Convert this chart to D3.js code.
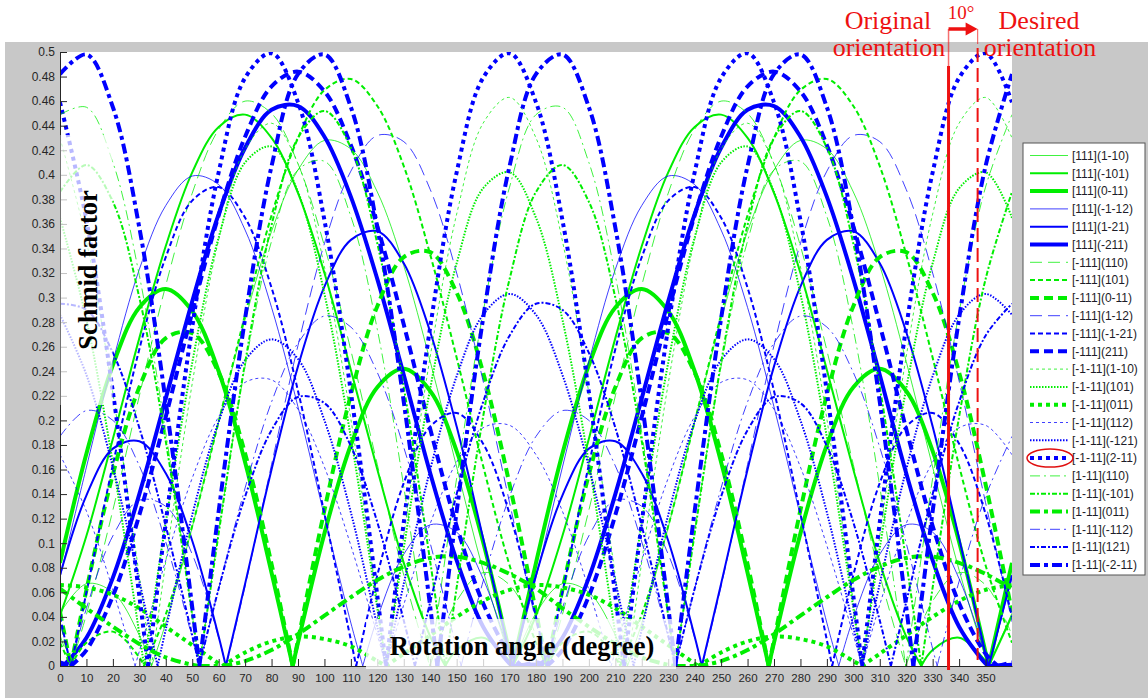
<!DOCTYPE html>
<html>
<head>
<meta charset="utf-8">
<script src="https://cdn.jsdelivr.net/npm/d3@7"></script>
<style>
  body { margin: 0; background: #fff; }
  svg { display: block; }
</style>
</head>
<body>
<div id="chart"></div>
<script>
// rotation angles (degree) at which the Schmid factors were read
const angles = [0,10,20,30,40,50,60,70,80,90,100,110,120,130,140,150,160,170,
  180,190,200,210,220,230,240,250,260,270,280,290,300,310,320,330,340,350,360];

const xTicks = [0,10,20,30,40,50,60,70,80,90,100,110,120,130,140,150,160,170,
  180,190,200,210,220,230,240,250,260,270,280,290,300,310,320,330,340,350];
const yTicks = [0,0.02,0.04,0.06,0.08,0.1,0.12,0.14,0.16,0.18,0.2,0.22,0.24,0.26,
  0.28,0.3,0.32,0.34,0.36,0.38,0.4,0.42,0.44,0.46,0.48,0.5];

const systems = ['[111](1-10)','[111](-101)','[111](0-11)','[111](-1-12)','[111](1-21)','[111](-211)',
  '[-111](110)','[-111](101)','[-111](0-11)','[-111](1-12)','[-111](-1-21)','[-111](211)',
  '[-1-11](1-10)','[-1-11](101)','[-1-11](011)','[-1-11](112)','[-1-11](-121)','[-1-11](2-11)',
  '[1-11](110)','[1-11](-101)','[1-11](011)','[1-11](-112)','[1-11](121)','[1-11](-2-11)'];

// Schmid factor per slip system, one row per system, read at `angles`
const plane111 = [
  [.043,.067,.060,.025,.035,.113,.199,.282,.354,.404,.428,.421,.386,.326,.248,.162,.078,.007,.043,.067,.060,.025,.035,.113,.199,.282,.354,.404,.428,.421,.386,.326,.248,.162,.078,.007,.043],
  [.041,.106,.185,.267,.342,.402,.439,.449,.430,.385,.320,.241,.160,.084,.024,.013,.023,.004,.041,.106,.185,.267,.342,.402,.439,.449,.430,.385,.320,.241,.160,.084,.024,.013,.023,.004,.041],
  [.084,.173,.245,.292,.307,.289,.240,.166,.076,.019,.108,.180,.227,.242,.224,.175,.101,.011,.084,.173,.245,.292,.307,.289,.240,.166,.076,.019,.108,.180,.227,.242,.224,.175,.101,.011,.084],
  [.072,.162,.248,.323,.375,.399,.392,.355,.292,.211,.122,.035,.039,.091,.115,.109,.071,.009,.072,.162,.248,.323,.375,.399,.392,.355,.292,.211,.122,.035,.039,.091,.115,.109,.071,.009,.072],
  [.074,.139,.177,.183,.157,.102,.024,.067,.160,.244,.309,.347,.354,.328,.272,.195,.104,.010,.074,.139,.177,.183,.157,.102,.024,.067,.160,.244,.309,.347,.354,.328,.272,.195,.104,.010,.074],
  [.001,.023,.072,.140,.218,.297,.368,.422,.453,.456,.431,.382,.315,.237,.157,.086,.032,.002,.001,.023,.072,.140,.218,.297,.368,.422,.453,.456,.431,.382,.315,.237,.157,.086,.032,.002,.001]
];
const planeM111 = [
  [.025,.042,.127,.220,.310,.385,.437,.460,.450,.409,.342,.257,.164,.074,.001,.053,.076,.066,.025,.042,.127,.220,.310,.385,.437,.460,.450,.409,.342,.257,.164,.074,.001,.053,.076,.066,.025],
  [.019,.019,.028,.007,.042,.114,.199,.286,.367,.430,.469,.478,.456,.407,.335,.251,.163,.082,.019,.019,.028,.007,.042,.114,.199,.286,.367,.430,.469,.478,.456,.407,.335,.251,.163,.082,.019],
  [.044,.062,.156,.227,.267,.271,.239,.173,.083,.021,.127,.221,.293,.333,.337,.304,.239,.148,.044,.062,.156,.227,.267,.271,.239,.173,.083,.021,.127,.221,.293,.333,.337,.304,.239,.148,.044],
  [.036,.047,.106,.135,.130,.091,.023,.065,.164,.261,.344,.403,.432,.427,.388,.320,.232,.133,.036,.047,.106,.135,.130,.091,.023,.065,.164,.261,.344,.403,.432,.427,.388,.320,.232,.133,.036],
  [.040,.060,.164,.258,.333,.379,.390,.365,.308,.224,.124,.021,.074,.149,.195,.206,.181,.124,.040,.060,.164,.258,.333,.379,.390,.365,.308,.224,.124,.021,.074,.149,.195,.206,.181,.124,.040],
  [.003,.013,.057,.123,.203,.288,.367,.431,.472,.484,.468,.424,.358,.278,.193,.114,.051,.010,.003,.013,.057,.123,.203,.288,.367,.431,.472,.484,.468,.424,.358,.278,.193,.114,.051,.010,.003]
];
const planeMM11 = [
  [.430,.346,.222,.073,.085,.230,.347,.421,.442,.409,.325,.201,.052,.106,.252,.368,.442,.463,.430,.346,.222,.073,.085,.230,.347,.421,.442,.409,.325,.201,.052,.106,.252,.368,.442,.463,.430],
  [.365,.282,.165,.026,.117,.247,.349,.410,.423,.386,.303,.186,.047,.096,.226,.328,.389,.402,.365,.282,.165,.026,.117,.247,.349,.410,.423,.386,.303,.186,.047,.096,.226,.328,.389,.402,.365],
  [.066,.064,.058,.047,.032,.017,.002,.011,.020,.024,.022,.016,.004,.010,.025,.040,.053,.062,.066,.064,.058,.047,.032,.017,.002,.011,.020,.024,.022,.016,.004,.010,.025,.040,.053,.062,.066],
  [.172,.126,.062,.012,.086,.153,.203,.231,.233,.209,.162,.098,.025,.050,.116,.166,.194,.196,.172,.126,.062,.012,.086,.153,.203,.231,.233,.209,.162,.098,.025,.050,.116,.166,.194,.196,.172],
  [.286,.237,.162,.069,.030,.123,.199,.249,.266,.250,.200,.125,.032,.067,.160,.236,.286,.303,.286,.237,.162,.069,.030,.123,.199,.249,.266,.250,.200,.125,.032,.067,.160,.236,.286,.303,.286],
  [.459,.363,.223,.057,.117,.276,.402,.479,.499,.459,.363,.223,.057,.117,.276,.402,.479,.499,.459,.363,.223,.057,.117,.276,.402,.479,.499,.459,.363,.223,.057,.117,.276,.402,.479,.499,.459]
];
const plane1M11 = [
  [.449,.455,.410,.318,.190,.042,.109,.244,.346,.404,.411,.366,.274,.146,.002,.153,.288,.390,.449,.455,.410,.318,.190,.042,.109,.244,.346,.404,.411,.366,.274,.146,.002,.153,.288,.390,.449],
  [.386,.408,.378,.300,.183,.041,.108,.247,.359,.430,.452,.422,.344,.227,.085,.064,.203,.315,.386,.408,.378,.300,.183,.041,.108,.247,.359,.430,.452,.422,.344,.227,.085,.064,.203,.315,.386],
  [.063,.047,.032,.018,.007,.001,.000,.004,.013,.026,.041,.056,.070,.081,.088,.089,.084,.075,.063,.047,.032,.018,.007,.001,.000,.004,.013,.026,.041,.056,.070,.081,.088,.089,.084,.075,.063],
  [.187,.208,.200,.163,.101,.023,.063,.145,.215,.263,.285,.276,.239,.178,.100,.014,.069,.138,.187,.208,.200,.163,.101,.023,.063,.145,.215,.263,.285,.276,.239,.178,.100,.014,.069,.138,.187],
  [.295,.290,.255,.194,.114,.025,.063,.138,.192,.219,.214,.179,.117,.037,.052,.140,.215,.269,.295,.290,.255,.194,.114,.025,.063,.138,.192,.219,.214,.179,.117,.037,.052,.140,.215,.269,.295],
  [.482,.498,.455,.357,.215,.048,.126,.283,.407,.482,.498,.455,.357,.215,.048,.126,.283,.407,.482,.498,.455,.357,.215,.048,.126,.283,.407,.482,.498,.455,.357,.215,.048,.126,.283,.407,.482]
];

// angles (degree) where each curve drops to zero (sharp V points)
const zeros111 = [[34.6,171.2,214.6,351.2],[145.7,171.2,325.7,351.2],[88,171.2,268,351.2],
  [114.5,171.2,294.5,351.2],[62.7,171.2,242.7,351.2],[1.2,171.2,181.2,351.2]];
const zerosM111 = [[4.1,139.8,184.1,319.8],[4.1,31.8,184.1,211.8],[4.1,88,184.1,268],
  [4.1,62.8,184.1,242.8],[4.1,112,184.1,292],[4.1,174.7,184.1,354.7]];
const zerosMM11 = [[34.6,123.3,214.6,303.3],[31.8,123.3,211.8,303.3],[61.4,123.3,241.4,303.3],
  [28.4,123.3,208.4,303.3],[36.9,123.3,216.9,303.3],[33.3,123.3,213.3,303.3]];
const zeros1M11 = [[52.7,139.8,232.7,319.8],[52.7,145.7,232.7,325.7],[52.8,61.4,232.8,241.4],
  [52.7,151.7,232.7,331.7],[52.7,134.2,232.7,314.2],[52.7,142.7,232.7,322.7]];

// orientation markers (degree)
const originalAngle = 336;
const desiredAngle = 347;

class SchmidPlot {

  constructor(_config) {
    this.config = {
      parentElement: _config.parentElement,
      containerWidth: 1148, containerHeight: 698,
      margin: { top: 52, right: 136, bottom: 32, left: 60 }
    };
    this.values = [].concat(plane111, planeM111, planeMM11, plane1M11);
    this.zeros = [].concat(zeros111, zerosM111, zerosMM11, zeros1M11);
    this.initVis();
  }

  initVis() {
    let vis = this;
    vis.width = vis.config.containerWidth - vis.config.margin.left - vis.config.margin.right;
    vis.height = vis.config.containerHeight - vis.config.margin.top - vis.config.margin.bottom;

    vis.xScale = d3.scaleLinear().domain([0, 360]).range([0, vis.width]);
    vis.yScale = d3.scaleLinear().domain([0, 0.5]).range([vis.height, 0]);

    // matlab style ticks pointing inwards
    vis.xAxis = d3.axisBottom(vis.xScale)
      .tickValues(xTicks)
      .tickSizeInner(-7)
      .tickSizeOuter(0)
      .tickPadding(7.5);
    vis.yAxis = d3.axisLeft(vis.yScale)
      .tickValues(yTicks)
      .tickSizeInner(-7)
      .tickSizeOuter(0)
      .tickPadding(5)
      .tickFormat(d => String(+d.toFixed(2)));

    vis.svg = d3.select(vis.config.parentElement).append('svg')
      .attr('width', vis.config.containerWidth)
      .attr('height', vis.config.containerHeight);

    // grey figure background
    vis.svg.append('rect')
      .attr('x', 5).attr('y', 42)
      .attr('width', vis.config.containerWidth - 5)
      .attr('height', vis.config.containerHeight - 42)
      .attr('fill', '#c8c8c8');

    vis.chart = vis.svg.append('g')
      .attr('transform', `translate(${vis.config.margin.left},${vis.config.margin.top})`);

    vis.chart.append('rect')
      .attr('width', vis.width)
      .attr('height', vis.height)
      .attr('fill', '#fff');

    vis.svg.append('clipPath').attr('id', 'plot-clip')
      .append('rect').attr('width', vis.width).attr('height', vis.height);

    vis.curveG = vis.chart.append('g').attr('clip-path', 'url(#plot-clip)');
    vis.xAxisG = vis.chart.append('g').attr('class', 'axis x-axis')
      .attr('transform', `translate(0,${vis.height})`);
    vis.yAxisG = vis.chart.append('g').attr('class', 'axis y-axis');
  }

  // colour / width / dash are picked from the position in the legend
  styleOf(i) {
    const plane = Math.floor(i / 6);
    const weight = i % 3;
    const dashes = [
      [null, null, null],
      ['12,6', '5,3', '9,5'],
      ['3,3', '1.5,1.5', '4,4'],
      ['10,4,2,4', '5,2,2,2', '10,4,4,4']
    ];
    return {
      color: (i % 6) < 3 ? '#00ee00' : '#0000ff',
      width: [1, 2, 4][weight],
      opacity: weight === 0 ? 0.75 : 1,
      dash: dashes[plane][weight]
    };
  }

  // split at zero points so the V bottoms stay sharp
  segments(vals, zs) {
    const pts = angles.map((a, i) => ({ a: a, v: vals[i], z: false }))
      .concat(zs.map(a => ({ a: a, v: 0, z: true })))
      .sort((p, q) => p.a - q.a);
    const segs = [];
    let cur = [];
    pts.forEach(p => {
      cur.push(p);
      if (p.z) {
        segs.push(cur);
        cur = [p];
      }
    });
    if (cur.length > 1) segs.push(cur);
    return segs;
  }

  renderVis() {
    let vis = this;

    const line = d3.line()
      .x(d => vis.xScale(d.a))
      .y(d => vis.yScale(d.v))
      .curve(d3.curveCatmullRom.alpha(0.5));

    vis.values.forEach((vals, i) => {
      const st = vis.styleOf(i);
      vis.curveG.append('g')
        .selectAll('path')
        .data(vis.segments(vals, vis.zeros[i]))
        .join('path')
        .attr('d', line)
        .attr('fill', 'none')
        .attr('stroke', st.color)
        .attr('stroke-width', st.width)
        .attr('stroke-opacity', st.opacity)
        .attr('stroke-dasharray', st.dash);
    });

    vis.xAxisG.call(vis.xAxis);
    vis.yAxisG.call(vis.yAxis);
    vis.chart.selectAll('.axis path, .axis line').attr('stroke', '#262626');
    vis.chart.selectAll('.axis text')
      .attr('fill', '#262626')
      .style('font-family', 'Liberation Sans, Arial, sans-serif')
      .style('font-size', '12px');
    vis.xAxisG.selectAll('text').style('font-size', '11.5px');

    // pasted label patches fade whatever is under them
    vis.chart.append('rect')
      .attr('x', 0.5).attr('y', 135 - vis.config.margin.top)
      .attr('width', 52).attr('height', 270)
      .attr('fill', '#fff').attr('opacity', 0.72);
    vis.chart.append('rect')
      .attr('x', 306).attr('y', vis.height - 47)
      .attr('width', 310).attr('height', 50)
      .attr('fill', '#fff').attr('opacity', 0.78);

    vis.chart.append('text')
      .attr('transform', `translate(37,${270 - vis.config.margin.top}) rotate(-90)`)
      .attr('text-anchor', 'middle')
      .style('font-family', 'Liberation Serif, Times New Roman, serif')
      .style('font-weight', 'bold')
      .style('font-size', '26.5px')
      .text('Schmid factor');

    vis.chart.append('text')
      .attr('x', 462).attr('y', vis.height - 11)
      .attr('text-anchor', 'middle')
      .style('font-family', 'Liberation Serif, Times New Roman, serif')
      .style('font-weight', 'bold')
      .style('font-size', '26.5px')
      .text('Rotation angle (degree)');

    vis.renderLegend();
    vis.renderMarkers();
  }

  renderLegend() {
    let vis = this;
    const lg = vis.svg.append('g').attr('transform', 'translate(1023,143)');
    lg.append('rect')
      .attr('width', 122).attr('height', 432)
      .attr('fill', '#fff').attr('stroke', '#555').attr('stroke-width', 1);

    const rows = lg.selectAll('.entry')
      .data(systems)
      .join('g')
      .attr('class', 'entry')
      .attr('transform', (d, i) => `translate(0,${12.5 + i * 17.8})`);

    rows.append('line')
      .attr('x1', 7).attr('x2', 45)
      .each(function (d, i) {
        const st = vis.styleOf(i);
        d3.select(this)
          .attr('stroke', st.color)
          .attr('stroke-width', st.width)
          .attr('stroke-opacity', st.opacity)
          .attr('stroke-dasharray', st.dash);
      });

    rows.append('text')
      .attr('x', 49).attr('dy', '0.36em')
      .attr('fill', '#1c1c28')
      .style('font-family', 'Liberation Sans, Arial, sans-serif')
      .style('font-size', '12px')
      .text(d => d);

    // highlighted system
    lg.append('ellipse')
      .attr('cx', 27).attr('cy', 12.5 + 17 * 17.8)
      .attr('rx', 23).attr('ry', 9)
      .attr('fill', 'none').attr('stroke', '#e01010').attr('stroke-width', 1.5);
  }

  renderMarkers() {
    let vis = this;
    const red = '#ee1111';
    const left = vis.config.margin.left;
    const xo = left + vis.xScale(originalAngle);
    const xd = left + vis.xScale(desiredAngle);

    vis.svg.append('line')
      .attr('x1', xo).attr('x2', xo).attr('y1', 29).attr('y2', 66)
      .attr('stroke', red).attr('stroke-opacity', 0.6).attr('stroke-width', 1.5);
    vis.svg.append('line')
      .attr('x1', xo).attr('x2', xo).attr('y1', 66).attr('y2', 670)
      .attr('stroke', red).attr('stroke-width', 3);

    vis.svg.append('line')
      .attr('x1', xd).attr('x2', xd).attr('y1', 29).attr('y2', 44)
      .attr('stroke', red).attr('stroke-opacity', 0.6).attr('stroke-width', 1.2);
    vis.svg.append('line')
      .attr('x1', xd).attr('x2', xd).attr('y1', 48).attr('y2', 660)
      .attr('stroke', red).attr('stroke-width', 2)
      .attr('stroke-dasharray', '14,6');

    // 10 degree arrow
    vis.svg.append('line')
      .attr('x1', xo).attr('x2', xd - 11).attr('y1', 29).attr('y2', 29)
      .attr('stroke', red).attr('stroke-width', 3.5);
    vis.svg.append('path')
      .attr('d', `M${xd - 12},22.5 L${xd},29 L${xd - 12},35.5 Z`)
      .attr('fill', red);

    const serif = 'Liberation Serif, Times New Roman, serif';
    const notes = [
      { t: '10°', x: (xo + xd) / 2 - 2, y: 19, s: 19 },
      { t: 'Original', x: 888, y: 29, s: 26 },
      { t: 'orientation', x: 889, y: 56, s: 26 },
      { t: 'Desired', x: 1039, y: 29, s: 26 },
      { t: 'orientation', x: 1040, y: 56, s: 26 }
    ];
    vis.svg.selectAll('.note')
      .data(notes)
      .join('text')
      .attr('class', 'note')
      .attr('x', d => d.x).attr('y', d => d.y)
      .attr('text-anchor', 'middle')
      .attr('fill', red)
      .style('font-family', serif)
      .style('font-size', d => d.s + 'px')
      .text(d => d.t);
  }
}

const plot = new SchmidPlot({ parentElement: '#chart' });
plot.renderVis();
</script>
</body>
</html>
